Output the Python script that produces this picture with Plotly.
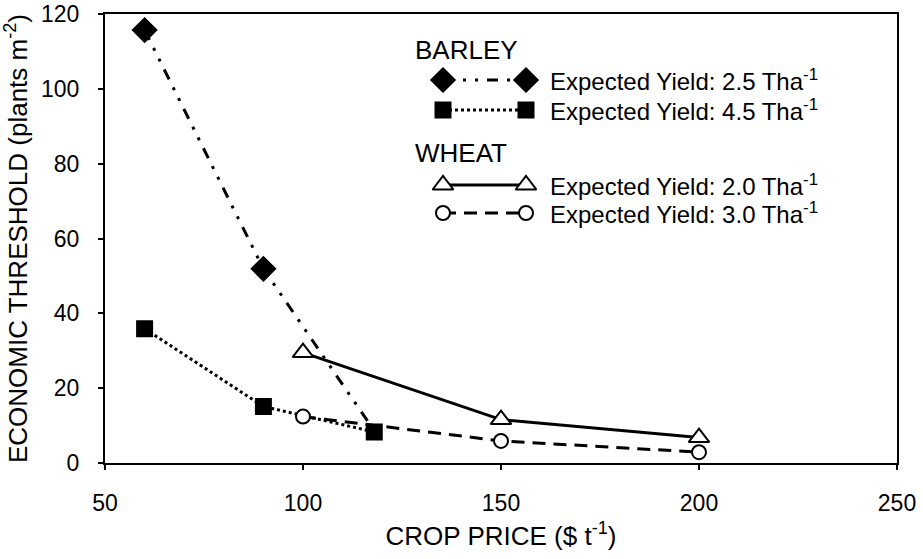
import plotly.graph_objects as go

# ---- data ----
barley25_x = [60, 90, 118]
barley25_y = [115.7, 51.9, 8.6]
barley45_x = [60, 90, 118]
barley45_y = [35.9, 15.1, 8.3]
wheat20_x = [100, 150, 200]
wheat20_y = [29.5, 11.6, 6.8]
wheat30_x = [100, 150, 200]
wheat30_y = [12.4, 5.9, 2.9]

x_ticks = [50, 100, 150, 200, 250]
y_ticks = [0, 20, 40, 60, 80, 100, 120]

FONT = "Liberation Sans, Arial, Helvetica, sans-serif"
DASHDOT = "11px,9px,3px,9px,3px,9px"
DOT = "3px,3px"
DASH = "13px,8px"

series = [
    dict(name="Barley 2.5", x=barley25_x, y=barley25_y, symbol="diamond", size=[18, 18, 0],
         lsize=18, fill="black", dash=DASHDOT, width=3),
    dict(name="Barley 4.5", x=barley45_x, y=barley45_y, symbol="square", size=15,
         lsize=15, fill="black", dash=DOT, width=3),
    dict(name="Wheat 2.0", x=wheat20_x, y=wheat20_y, symbol="triangle-up", size=18,
         lsize=18, fill="white", dash="solid", width=3),
    dict(name="Wheat 3.0", x=wheat30_x, y=wheat30_y, symbol="circle", size=14,
         lsize=14, fill="white", dash=DASH, width=3),
]

fig = go.Figure()
for s in series:
    fig.add_trace(go.Scatter(
        x=s["x"], y=s["y"], mode="lines+markers", name=s["name"],
        line=dict(color="black", width=s["width"], dash=s["dash"]),
        marker=dict(symbol=s["symbol"], size=s["size"], color=s["fill"], opacity=1,
                    line=dict(color="black", width=2)),
        showlegend=False, cliponaxis=False,
    ))

# ---- hand-drawn legend on an overlay axis in pixel-like units ----
leg_rows = [
    (series[0], 80, "Expected Yield: 2.5 Tha<sup>-1</sup>"),
    (series[1], 110, "Expected Yield: 4.5 Tha<sup>-1</sup>"),
    (series[2], 185, "Expected Yield: 2.0 Tha<sup>-1</sup>"),
    (series[3], 213, "Expected Yield: 3.0 Tha<sup>-1</sup>"),
]
for s, yy, label in leg_rows:
    fig.add_trace(go.Scatter(
        x=[443, 526], y=[yy, yy], mode="lines+markers", xaxis="x2", yaxis="y2",
        line=dict(color="black", width=s["width"], dash=s["dash"]),
        marker=dict(symbol=s["symbol"], size=s["lsize"], color=s["fill"], opacity=1,
                    line=dict(color="black", width=2)),
        showlegend=False, hoverinfo="skip", cliponaxis=False,
    ))
    fig.add_annotation(x=548, y=yy, xref="x2", yref="y2", text=label,
                       showarrow=False, xanchor="left", yanchor="middle",
                       font=dict(family=FONT, size=24, color="black"))
for title, yy in [("BARLEY", 50), ("WHEAT", 153)]:
    fig.add_annotation(x=413, y=yy, xref="x2", yref="y2", text=title,
                       showarrow=False, xanchor="left", yanchor="middle",
                       font=dict(family=FONT, size=26, color="black"))

axis_common = dict(showgrid=False, zeroline=False, showline=True, linecolor="black",
                   linewidth=2, mirror=True,
                   ticks="outside", ticklen=5, automargin=False,
                   tickwidth=1.5, tickcolor="black",
                   tickfont=dict(family=FONT, size=23, color="black"))

fig.update_layout(
    width=923, height=559,
    margin=dict(l=105, r=26, t=14, b=96),
    paper_bgcolor="white", plot_bgcolor="white",
    font=dict(family=FONT, color="black"),
    xaxis=dict(range=[50, 250], tickvals=x_ticks, ticklabelstandoff=13,
               title=dict(text="CROP PRICE ($ t<sup>-1</sup>)",
                          font=dict(family=FONT, size=26), standoff=12),
               **axis_common),
    yaxis=dict(range=[0, 120], tickvals=y_ticks, ticklabelstandoff=14,
               title=dict(text="ECONOMIC THRESHOLD (plants m<sup>-2</sup>)",
                          font=dict(family=FONT, size=26), standoff=6),
               **axis_common),
    xaxis2=dict(range=[105, 897], overlaying="x", visible=False, fixedrange=True),
    yaxis2=dict(range=[463, 14], overlaying="y", visible=False, fixedrange=True),
)

fig.write_html("out.html", config={"displayModeBar": False},
               post_script="document.body.style.margin='0';document.body.style.overflow='hidden';")
